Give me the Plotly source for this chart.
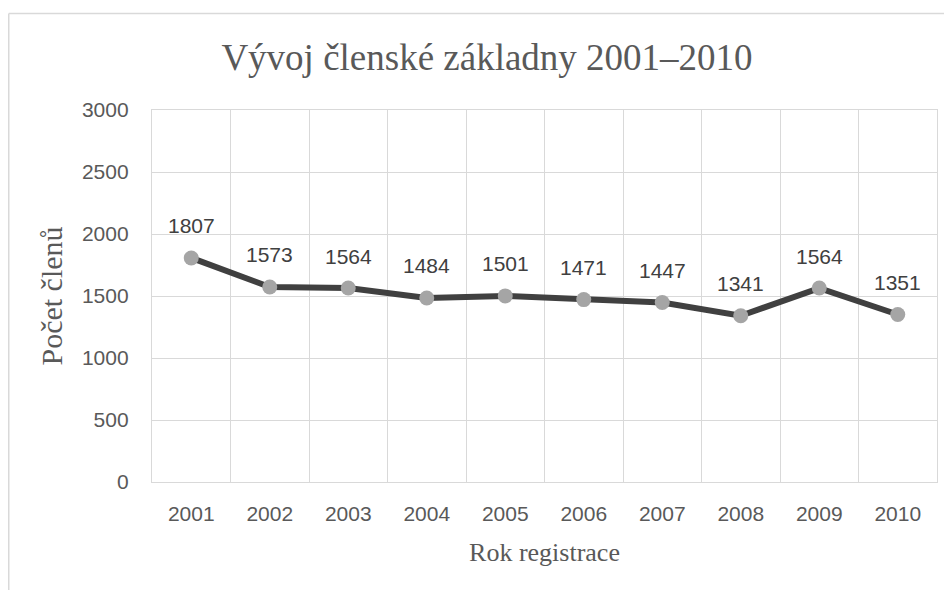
import plotly.graph_objects as go

years = ["2001", "2002", "2003", "2004", "2005", "2006", "2007", "2008", "2009", "2010"]
members = [1807, 1573, 1564, 1484, 1501, 1471, 1447, 1341, 1564, 1351]
y_ticks = [0, 500, 1000, 1500, 2000, 2500, 3000]

title_text = "Vývoj členské základny 2001–2010"
x_title = "Rok registrace"
y_title = "Počet členů"

# page has an 8px body margin; figure placed at (8,8)
OFF = 8
W, H = 952 - OFF, 591 - OFF
L, T = 152 - OFF, 110 - OFF
R = 952 - 937
B = 591 - 482
pw = W - L - R
ph = H - T - B

def px_x(p):
    return (p - OFF - L) / pw

def px_y(p):
    return (H - B - (p - OFF)) / ph

fig = go.Figure()
fig.add_trace(go.Scatter(
    x=years, y=members,
    mode="lines+markers",
    line=dict(color="#404040", width=6),
    marker=dict(color="#a5a5a5", size=15, line=dict(width=0)),
    cliponaxis=False,
    hoverinfo="skip",
))

# category axis: annotation x given as category index
annotations = [
    dict(x=i, y=v, xref="x", yref="y", text=str(v), showarrow=False,
         yshift=32, font=dict(family="Liberation Sans", size=21, color="#404040"))
    for i, v in enumerate(members)
]

grid = "#d9d9d9"
fig.update_layout(
    width=W, height=H,
    margin=dict(l=L, r=R, t=T, b=B),
    paper_bgcolor="white", plot_bgcolor="white",
    showlegend=False,
    annotations=annotations,
    title=dict(
        text=title_text,
        font=dict(family="Liberation Serif", size=37, color="#595959"),
        xref="paper", x=px_x(487), xanchor="center",
        yref="container", y=1 - (57 - OFF) / H, yanchor="middle",
    ),
    xaxis=dict(
        type="category",
        range=[-0.5, 9.5],
        tickson="boundaries",
        showgrid=True, gridcolor=grid, gridwidth=1.3,
        showline=True, linecolor=grid, linewidth=1.3, mirror=True,
        ticks="", ticklabelstandoff=13,
        tickfont=dict(family="Liberation Sans", size=21, color="#595959"),
        title=dict(text=x_title, standoff=18,
                   font=dict(family="Liberation Serif", size=26, color="#595959")),
        zeroline=False,
        fixedrange=True,
    ),
    yaxis=dict(
        range=[0, 3000],
        tickvals=y_ticks,
        ticktext=[str(v) for v in y_ticks],
        showgrid=True, gridcolor=grid, gridwidth=1.3,
        zeroline=False,
        showline=True, linecolor=grid, linewidth=1.3, mirror=True,
        ticks="", ticklabelstandoff=18,
        tickfont=dict(family="Liberation Sans", size=21, color="#595959"),
        title=dict(text=y_title, standoff=10,
                   font=dict(family="Liberation Serif", size=30, color="#595959")),
        fixedrange=True,
    ),
    shapes=[
        dict(type="line", xref="paper", yref="paper",
             x0=px_x(8.75), x1=px_x(960), y0=px_y(13.5), y1=px_y(13.5),
             line=dict(color=grid, width=1.5)),
        dict(type="line", xref="paper", yref="paper",
             x0=px_x(8.75), x1=px_x(8.75), y0=px_y(13.5), y1=px_y(590),
             line=dict(color=grid, width=1.5)),
    ],
)

fig.write_html("out.html")
